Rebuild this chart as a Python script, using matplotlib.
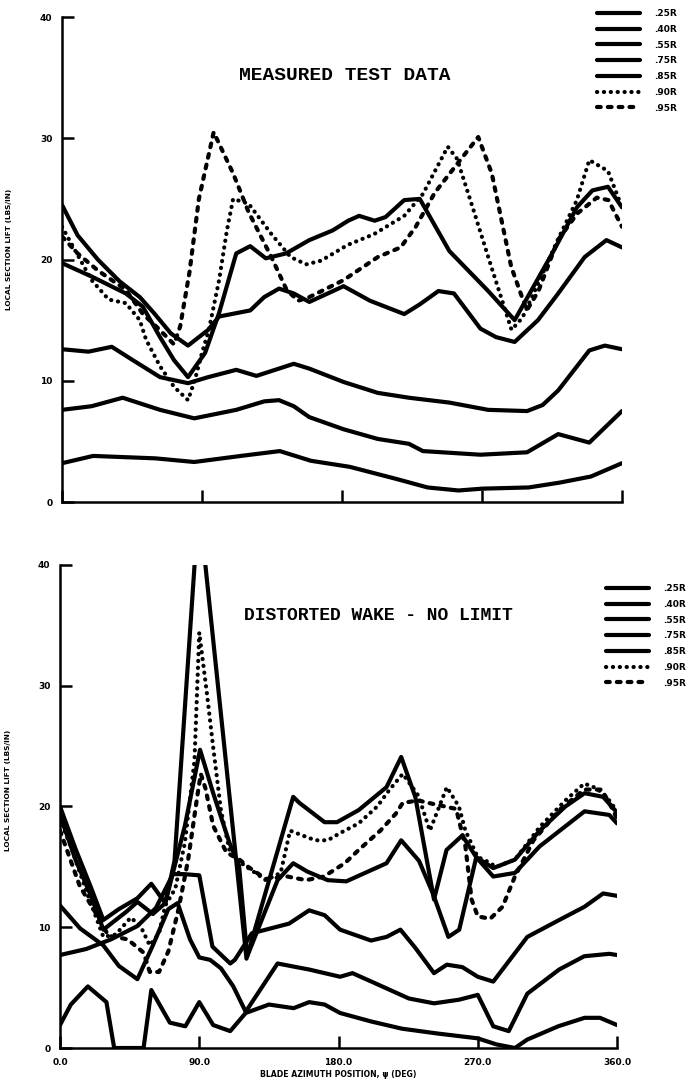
import matplotlib
matplotlib.use('Agg')
import matplotlib.pyplot as plt

# radial stations
stations = ['.25R', '.40R', '.55R', '.75R', '.85R', '.90R', '.95R']
x_ticks = [0, 90, 180, 270, 360]
x_tick_labels = ['0.0', '90.0', '180.0', '270.0', '360.0']
y_ticks = [0, 10, 20, 30, 40]

# ---- measured test data (top) ----
top_25_az = [0, 20, 60, 85, 115, 140, 160, 185, 215, 235, 255, 270, 300, 320, 340, 360]
top_25_lift = [3.2, 3.8, 3.6, 3.3, 3.8, 4.2, 3.4, 2.9, 1.9, 1.2, 0.95, 1.1, 1.2, 1.6, 2.1, 3.2]

top_40_az = [0, 19, 39, 63, 85, 112, 130, 139.5, 149, 159, 181, 203, 223, 232, 269, 299, 319, 339, 360]
top_40_lift = [7.6, 7.9, 8.6, 7.6, 6.9, 7.6, 8.3, 8.4, 7.9, 7.0, 6.0, 5.2, 4.8, 4.2, 3.9, 4.1, 5.6, 4.9, 7.5]

top_55_az = [0, 17, 32, 45.5, 63, 81, 94, 112, 125, 149, 159, 181, 203, 223, 249, 274, 299, 309, 319, 339, 349, 360]
top_55_lift = [12.6, 12.4, 12.8, 11.7, 10.3, 9.8, 10.3, 10.9, 10.4, 11.4, 11.0, 9.9, 9.0, 8.6, 8.2, 7.6, 7.5, 8.0, 9.2, 12.5, 12.9, 12.6]

top_75_az = [0, 19, 41, 52, 63, 72, 81, 92, 101, 112, 121, 131, 144, 159, 174, 184, 191, 201, 208, 220,
             230, 249, 274, 291, 316, 331, 341, 351, 360]
top_75_lift = [19.7, 18.6, 17.2, 16.1, 13.6, 11.7, 10.3, 12.3, 15.6, 20.5, 21.1, 20.1, 20.5, 21.6, 22.4, 23.2,
               23.6, 23.2, 23.5, 24.9, 25.0, 20.7, 17.4, 15.0, 20.7, 24.3, 25.7, 26.0, 24.3]

top_85_az = [0, 10, 23, 37, 50, 59, 70, 81, 94, 101, 121, 130, 139.5, 149, 159, 181, 198, 220, 230, 242,
             252, 269, 279, 291, 306, 319, 336, 350, 360]
top_85_lift = [24.5, 22.0, 20.0, 18.2, 16.9, 15.6, 13.9, 12.9, 14.2, 15.3, 15.8, 16.9, 17.6, 17.2, 16.5, 17.8,
               16.6, 15.5, 16.3, 17.4, 17.2, 14.3, 13.6, 13.2, 15.0, 17.2, 20.2, 21.6, 21.0]

top_90_az = [0, 19, 30, 41, 50, 54, 63, 72, 81, 85.5, 90, 94.4, 101, 106, 110, 120, 134.6, 147, 157, 166.5,
             183.6, 200.7, 220, 232, 248, 254, 264, 276, 289, 296, 306, 319, 331, 339, 351, 360]
top_90_lift = [22.7, 18.3, 16.7, 16.4, 15.0, 13.4, 11.2, 9.5, 8.4, 10.1, 12.3, 14.2, 18.3, 22.4, 25.0, 24.6,
               22.1, 20.2, 19.6, 19.9, 21.2, 22.1, 23.6, 25.4, 29.3, 28.3, 24.3, 19.4, 14.2, 15.2, 18.0, 21.7,
               24.9, 28.2, 27.3, 24.3]

top_95_az = [0, 10, 23, 41, 52, 62, 72, 76, 82, 88, 97.5, 110, 120, 134.6, 144.4, 151.8, 159, 181, 203,
             217.7, 227.4, 239.6, 256.6, 267.6, 276.3, 288.8, 298.8, 306.3, 318.8, 331.3, 343.8, 351.3, 360]
top_95_lift = [21.9, 20.5, 19.1, 17.5, 15.5, 14.3, 13.0, 14.5, 19.0, 25.0, 30.5, 27.1, 23.9, 20.2, 17.5, 16.6,
               16.9, 18.3, 20.2, 21.0, 22.7, 25.5, 28.3, 30.1, 27.1, 19.4, 15.8, 17.4, 21.6, 23.8, 25.1, 24.9, 22.7]

# ---- distorted wake, no limit (bottom) ----
bot_25_az = [0, 7, 18, 30, 35, 54, 59, 71, 81, 90, 99, 110, 120, 135, 151, 161, 171, 181, 201, 221, 244,
             270, 282, 294, 302, 322, 339, 349, 360]
bot_25_lift = [1.9, 3.6, 5.1, 3.8, 0, 0, 4.8, 2.1, 1.8, 3.8, 1.9, 1.4, 2.9, 3.6, 3.3, 3.8, 3.6, 2.9, 2.2, 1.6,
               1.2, 0.8, 0.3, 0, 0.7, 1.8, 2.5, 2.5, 1.9]

bot_40_az = [0, 13, 28, 38, 50, 60, 70, 76, 84, 90, 97, 104, 112, 120, 140.6, 152.7, 161, 181, 189, 203,
             225.5, 241.7, 257.9, 270, 280, 290, 302, 322.6, 338.8, 355, 360]
bot_40_lift = [11.8, 9.9, 8.5, 6.8, 5.7, 8.5, 11.5, 12.0, 9.0, 7.5, 7.3, 6.6, 5.1, 3.0, 7.0, 6.7, 6.5, 5.9,
               6.2, 5.4, 4.1, 3.7, 4.0, 4.4, 1.8, 1.4, 4.5, 6.5, 7.6, 7.8, 7.7]

bot_55_az = [0, 17, 33, 50, 62, 73, 80, 90, 98.5, 110, 113, 124, 148, 161, 171, 181, 201, 211, 220, 229.6,
             241.7, 250, 260, 270, 280, 302, 322.6, 339, 351, 360]
bot_55_lift = [7.7, 8.2, 9.0, 10.1, 11.6, 14.4, 14.4, 14.3, 8.4, 7.0, 7.3, 9.5, 10.3, 11.4, 11.0, 9.8, 8.9,
               9.2, 9.8, 8.3, 6.2, 6.9, 6.7, 5.9, 5.5, 9.2, 10.6, 11.7, 12.8, 12.6]

bot_75_az = [0, 10, 20, 28, 43, 50, 60, 68, 80.7, 90.5, 99, 109.5, 115.7, 121, 140.6, 150.7, 160, 173, 185,
             211, 220.5, 232, 241, 251, 258, 269, 280, 294, 310, 339, 355, 360]
bot_75_lift = [19.3, 15.6, 12.6, 9.8, 11.3, 12.1, 11.1, 12.0, 18.4, 24.7, 21.1, 17.0, 15.1, 7.6, 13.9, 15.3,
               14.6, 13.9, 13.8, 15.3, 17.2, 15.5, 12.8, 9.2, 9.8, 15.8, 14.2, 14.5, 16.7, 19.6, 19.3, 18.6]

bot_85_az = [0, 10, 20, 28, 38, 50, 59, 68, 74, 89.7, 120.5, 150.7, 154.7, 171, 179, 193, 211, 220.5, 229.6,
             241.7, 249.8, 260, 269, 280, 294, 310, 326.6, 339, 351, 360]
bot_85_lift = [20.0, 16.5, 13.3, 10.6, 11.5, 12.4, 13.6, 12.0, 15.5, 45.2, 7.4, 20.8, 20.3, 18.7, 18.7, 19.7,
               21.6, 24.1, 20.8, 12.3, 16.4, 17.6, 15.8, 14.9, 15.6, 18.0, 20.0, 21.1, 20.8, 19.5]

bot_90_az = [0, 8, 17, 28, 36, 45.7, 52, 58, 64, 68, 74.5, 80.7, 86.9, 90, 95, 99, 104, 110, 115, 124, 133,
             142.6, 148.7, 156.8, 165, 173, 181, 193, 205, 213, 221.5, 231.6, 239, 250, 257.8, 262, 270, 274,
             282, 294, 310, 326.6, 338.8, 347, 355, 360]
bot_90_lift = [19.0, 16.3, 13.0, 9.2, 9.4, 10.8, 10.1, 8.5, 9.5, 11.8, 13.2, 17.0, 23.8, 34.4, 29.3, 24.9,
               19.7, 16.1, 15.5, 14.7, 13.9, 14.5, 18.0, 17.6, 17.2, 17.2, 17.8, 18.6, 20.0, 21.4, 22.7, 20.9,
               18.0, 21.6, 20.0, 18.0, 15.8, 15.6, 15.0, 15.6, 18.3, 20.5, 21.9, 21.5, 20.5, 19.6]

bot_95_az = [0, 12.8, 23, 31.3, 43.7, 54, 58, 64, 70, 76.6, 82.8, 89, 91, 94, 99, 107.5, 116, 121.6, 133,
             147, 159, 170.5, 184, 193, 207, 217, 221.5, 231.6, 238, 256, 262, 266, 270, 278, 286, 294, 306,
             322.6, 338.8, 350, 355, 360]
bot_95_lift = [18.0, 13.4, 11.2, 9.3, 9.0, 7.9, 6.3, 6.3, 8.0, 11.5, 15.6, 21.1, 22.7, 21.5, 18.4, 16.2,
               15.6, 15.0, 14.0, 14.2, 13.9, 14.2, 15.3, 16.4, 18.0, 19.4, 20.3, 20.5, 20.3, 19.8, 16.7, 12.3,
               10.9, 10.7, 11.7, 14.2, 17.2, 19.7, 21.4, 21.4, 20.3, 19.0]

top_series = [(top_25_az, top_25_lift), (top_40_az, top_40_lift), (top_55_az, top_55_lift),
              (top_75_az, top_75_lift), (top_85_az, top_85_lift), (top_90_az, top_90_lift),
              (top_95_az, top_95_lift)]
bot_series = [(bot_25_az, bot_25_lift), (bot_40_az, bot_40_lift), (bot_55_az, bot_55_lift),
              (bot_75_az, bot_75_lift), (bot_85_az, bot_85_lift), (bot_90_az, bot_90_lift),
              (bot_95_az, bot_95_lift)]

LW = 3.0
styles = ['-', '-', '-', '-', '-', (0, (0.05, 1.6)), (0, (0.9, 1.7))]

TICK_FONT = dict(family='DejaVu Sans', weight='bold', size=6.5)

fig = plt.figure(figsize=(6.93, 10.84), dpi=100)
ax_top = fig.add_axes([0.0895, 0.5369, 0.808, 0.4474])
ax_bot = fig.add_axes([0.0866, 0.0332, 0.8038, 0.4456])


def draw_panel(ax, series, legend_anchor):
    handles = []
    for (az, lift), ls, name in zip(series, styles, stations):
        line, = ax.plot(az, lift, color='black', lw=LW, linestyle=ls,
                        dash_capstyle='round', solid_capstyle='round',
                        solid_joinstyle='round', dash_joinstyle='round', label=name)
        handles.append(line)
    ax.set_xlim(0, 360)
    ax.set_ylim(0, 40)
    for side in ['top', 'right']:
        ax.spines[side].set_visible(False)
    for side in ['left', 'bottom']:
        ax.spines[side].set_linewidth(1.8)
    ax.set_xticks(x_ticks)
    ax.set_yticks(y_ticks)
    ax.set_yticklabels([str(v) for v in y_ticks], fontdict=TICK_FONT)
    ax.tick_params(direction='in', length=8.5, width=1.8, pad=7)
    ax.set_ylabel('LOCAL SECTION LIFT (LBS/IN)', fontsize=5.3, fontweight='bold')
    leg = fig.legend(handles=handles, loc='upper left', bbox_to_anchor=legend_anchor,
                     frameon=False, handlelength=4.8, handletextpad=1.5, labelspacing=0.75,
                     borderpad=0, borderaxespad=0,
                     prop=dict(family='DejaVu Sans', weight='bold', size=6.5))
    return leg


draw_panel(ax_top, top_series, (597 / 693, 1 - 9 / 1084))
ax_top.set_xticklabels([])
ax_top.yaxis.set_label_coords(-0.09, 0.52)

draw_panel(ax_bot, bot_series, (606 / 693, 1 - 584 / 1084))
ax_bot.set_xticklabels(x_tick_labels, fontdict=TICK_FONT)
ax_bot.set_xlabel('BLADE AZIMUTH POSITION, \u03c8 (DEG)', fontsize=5.6, fontweight='bold', labelpad=2)
ax_bot.yaxis.set_label_coords(-0.088, 0.534)

fig.text(345 / 693, 1 - 76 / 1084, 'MEASURED TEST DATA', ha='center', va='center',
         family='Liberation Mono', weight='bold', size=14)
fig.text(378 / 693, 1 - 616 / 1084, 'DISTORTED WAKE - NO LIMIT', ha='center', va='center',
         family='Liberation Mono', weight='bold', size=13)

fig.savefig('out.png', dpi=100)
